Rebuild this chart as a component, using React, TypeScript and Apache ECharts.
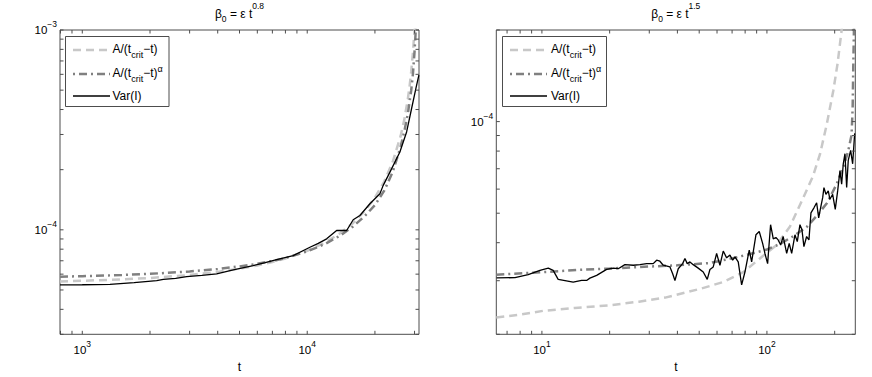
import React, { useEffect, useRef } from 'react';
import * as echarts from 'echarts';

// ---------- data ----------
// Left panel: beta0 = eps t^0.8
const leftFitLin: [number, number][] = [
  [796, 5.52e-5], [1000, 5.56e-5], [1500, 5.65e-5], [2000, 5.74e-5], [3000, 5.94e-5],
  [4000, 6.16e-5], [5000, 6.39e-5], [6000, 6.63e-5], [7000, 6.9e-5], [8000, 7.19e-5],
  [10000, 7.85e-5], [12000, 8.64e-5], [14000, 9.61e-5], [16000, 1.082e-4], [18000, 1.239e-4],
  [20000, 1.449e-4], [22000, 1.744e-4], [24000, 2.19e-4], [26000, 2.94e-4], [27000, 3.55e-4],
  [28000, 4.5e-4], [28500, 5.2e-4], [29000, 6.2e-4], [29500, 7.7e-4], [30000, 1.0e-3], [30300, 1.2e-3],
];
const leftFitPow: [number, number][] = [
  [796, 5.83e-5], [1000, 5.86e-5], [1500, 5.94e-5], [2000, 6.02e-5], [3000, 6.19e-5],
  [4000, 6.37e-5], [5000, 6.56e-5], [6000, 6.76e-5], [7000, 6.98e-5], [8000, 7.22e-5],
  [10000, 7.8e-5], [12000, 8.5e-5], [14000, 9.35e-5], [16000, 1.04e-4], [18000, 1.17e-4],
  [20000, 1.33e-4], [22000, 1.57e-4], [24000, 1.95e-4], [26000, 2.6e-4], [27000, 3.1e-4],
  [28000, 3.8e-4], [29000, 5.0e-4], [29500, 6.0e-4], [30000, 7.8e-4], [30300, 9.5e-4], [30500, 1.1e-3],
];
const leftVar: [number, number][] = [
  [796, 5.3e-5], [1000, 5.31e-5], [1327, 5.33e-5], [1700, 5.44e-5], [2142, 5.565e-5],
  [2291, 5.65e-5], [2600, 5.72e-5], [2911, 5.83e-5], [3400, 5.92e-5], [3957, 6.015e-5],
  [4690, 6.3e-5], [5754, 6.62e-5], [6500, 6.85e-5], [7311, 7.1e-5], [8667, 7.43e-5],
  [10280, 8.18e-5], [11200, 8.55e-5], [12200, 9.01e-5], [13510, 9.92e-5], [14970, 9.92e-5],
  [16010, 1.123e-4], [17150, 1.18e-4], [19000, 1.351e-4], [21040, 1.516e-4], [21770, 1.669e-4],
  [23320, 1.945e-4], [25820, 2.451e-4], [27660, 3.088e-4], [29110, 4.047e-4], [30420, 5.1e-4],
  [31360, 5.95e-4],
];

// Right panel: beta0 = eps t^1.5
const rightFitLin: [number, number][] = [
  [6.27, 2.27e-5], [8, 2.32e-5], [10.17, 2.39e-5], [14, 2.44e-5], [19.83, 2.49e-5],
  [27, 2.56e-5], [35.3, 2.64e-5], [50.4, 2.82e-5], [64, 2.97e-5], [78.5, 3.2e-5],
  [93, 3.55e-5], [110.4, 3.93e-5], [126.6, 4.52e-5], [145, 5.62e-5], [160, 6.6e-5],
  [172, 7.8e-5], [184.2, 9.75e-5], [197.1, 1.26e-4], [206, 1.55e-4], [214.8, 2.0e-4], [220, 2.4e-4],
];
const rightFitPow: [number, number][] = [
  [6.27, 3.14e-5], [10, 3.2e-5], [15, 3.26e-5], [20, 3.29e-5], [30, 3.34e-5],
  [40, 3.37e-5], [55.8, 3.43e-5], [72, 3.57e-5], [85, 3.68e-5], [100, 3.8e-5],
  [115, 3.97e-5], [130, 4.19e-5], [150, 4.5e-5], [166, 4.89e-5], [185, 5.4e-5],
  [204, 6.23e-5], [220, 7.18e-5], [230, 8.04e-5], [237.7, 9.03e-5], [240.4, 1.108e-4],
  [241.9, 1.507e-4], [243.6, 2.0e-4], [244.5, 2.4e-4],
];
const rightVar: [number, number][] = [
  [6.29, 3.066e-5], [7.59, 3.07e-5], [8.69, 3.14e-5], [9.8, 3.245e-5], [10.67, 3.3e-5],
  [11.22, 3.245e-5], [11.81, 3.03e-5], [13.77, 2.967e-5], [15.01, 3.006e-5], [15.8, 3.006e-5],
  [16.34, 3.059e-5], [17.51, 3.124e-5], [19.39, 3.27e-5], [20.75, 3.3e-5], [21.83, 3.285e-5],
  [23.38, 3.388e-5], [25.46, 3.373e-5], [27.27, 3.388e-5], [29.2, 3.414e-5], [31.24, 3.414e-5],
  [32.35, 3.504e-5], [33.44, 3.477e-5], [34.6, 3.373e-5], [37.07, 3.33e-5], [38.11, 3.162e-5],
  [39.01, 3.006e-5], [40.35, 3.285e-5], [42.2, 3.414e-5], [43.21, 3.548e-5], [44.24, 3.414e-5],
  [45.48, 3.459e-5], [47.03, 3.388e-5], [49.5, 3.3e-5], [52.11, 3.204e-5], [54.29, 3.03e-5],
  [55.81, 3.266e-5], [57.72, 3.33e-5], [59.76, 3.687e-5], [61.82, 3.373e-5], [63.95, 3.755e-5],
  [66.21, 3.567e-5], [68.49, 3.642e-5], [70.41, 3.504e-5], [72.08, 3.594e-5], [74.55, 3.459e-5],
  [77.19, 2.906e-5], [79.85, 3.204e-5], [83.43, 3.784e-5], [85.51, 3.459e-5], [89.36, 4.246e-5],
  [92.43, 4.355e-5], [95.69, 3.981e-5], [97.97, 3.687e-5], [100.7, 3.414e-5], [103.8, 4.584e-5],
  [106.7, 4.117e-5], [109.6, 4.159e-5], [112.2, 4.085e-5], [115.1, 3.931e-5], [118.1, 4.191e-5],
  [122.4, 3.687e-5], [125.6, 3.981e-5], [128.8, 3.687e-5], [133.2, 4.246e-5], [136.4, 4.032e-5],
  [140.2, 4.584e-5], [143.1, 4.412e-5], [146.0, 3.882e-5], [150.1, 4.191e-5], [153.7, 4.085e-5],
  [156.9, 5.012e-5], [161.8, 5.208e-5], [166.3, 5.412e-5], [169.8, 4.823e-5], [173.8, 5.277e-5],
  [176.9, 5.623e-5], [179.2, 6.07e-5], [182.9, 5.77e-5], [187.3, 5.92e-5], [190.5, 5.555e-5],
  [195.9, 5.77e-5], [201.2, 5.145e-5], [206.2, 5.92e-5], [211.1, 6.902e-5], [214.8, 6.23e-5],
  [218.4, 7.266e-5], [222.2, 7.846e-5], [226.1, 6.07e-5], [229.8, 7.453e-5], [235.5, 8.047e-5],
  [240.4, 7.266e-5], [245.4, 9.148e-5],
];

// axis ranges
const leftX = [796, 31400];
const leftY = [3e-5, 1e-3];
const rightX = [6.27, 247];
const rightY = [2e-5, 2e-4];

const titles = ['{b|β}{s|0}{b| = ε t}{p|0.8}', '{b|β}{s|0}{b| = ε t}{p|1.5}'];
const legendTexts = ['{n|A/(t}{s|crit}{n|−t)}', '{n|A/(t}{s|crit}{n|−t)}{p|α}', '{n|Var(I)}'];

// ---------- styles ----------
const FONT = '"Liberation Sans", Arial, Helvetica, sans-serif';
const AXIS_COLOR = '#4d4d4d';
const LIGHT = '#c8c8c8';
const DARK = '#808080';

const GRIDS = [
  { left: 60, top: 30, width: 359, height: 304.3 },
  { left: 496.3, top: 30, width: 359, height: 304.3 },
];

function powLabel(v: number) {
  const e = Math.log10(v);
  const r = Math.round(e);
  if (Math.abs(e - r) > 1e-6) return '';
  return `{b|10}{p|${r < 0 ? '−' + -r : r}}`;
}

const tickRich = {
  b: { fontSize: 11.5, fontFamily: FONT, color: '#000' },
  p: { fontSize: 8.5, fontFamily: FONT, color: '#000', padding: [0, 0, 12, 0] },
};

function logTicks(min: number, max: number) {
  const out: number[] = [];
  for (let k = Math.floor(Math.log10(min)); k <= Math.ceil(Math.log10(max)); k++) {
    for (let m = 1; m <= 9; m++) {
      const v = m * Math.pow(10, k);
      if (v >= min * (1 - 1e-9) && v <= max * (1 + 1e-9)) out.push(v);
    }
  }
  return out;
}

function tickSeries(idx: number, xr: number[], yr: number[]) {
  const xs = logTicks(xr[0], xr[1]);
  const ys = logTicks(yr[0], yr[1]);
  const L = 3.5;
  return {
    type: 'custom',
    xAxisIndex: idx,
    yAxisIndex: idx,
    silent: true,
    clip: false,
    z: 10,
    data: [[xr[0], yr[0]]],
    renderItem: (_params: any, api: any) => {
      const bl = api.coord([xr[0], yr[0]]);
      const tr = api.coord([xr[1], yr[1]]);
      const children: any[] = [];
      const ln = (x1: number, y1: number, x2: number, y2: number) => ({
        type: 'line',
        shape: { x1, y1, x2, y2 },
        style: { stroke: AXIS_COLOR, lineWidth: 1 },
      });
      xs.forEach((x) => {
        const p = api.coord([x, yr[0]]);
        children.push(ln(p[0], bl[1], p[0], bl[1] - L));
        children.push(ln(p[0], tr[1], p[0], tr[1] + L));
      });
      ys.forEach((y) => {
        const p = api.coord([xr[0], y]);
        children.push(ln(bl[0], p[1], bl[0] + L, p[1]));
        children.push(ln(tr[0], p[1], tr[0] - L, p[1]));
      });
      return { type: 'group', children };
    },
  };
}

function lineSeries(idx: number, data: [number, number][], color: string, width: number, type: any, z: number) {
  return {
    type: 'line',
    xAxisIndex: idx,
    yAxisIndex: idx,
    data,
    showSymbol: false,
    symbol: 'none',
    silent: true,
    z,
    lineStyle: { color, width, type, cap: 'butt' },
  };
}

function xAxis(idx: number, r: number[]) {
  return {
    type: 'log',
    logBase: 10,
    gridIndex: idx,
    min: r[0],
    max: r[1],
    axisLine: { show: false },
    axisTick: { show: false },
    splitLine: { show: false },
    axisLabel: { formatter: powLabel, rich: tickRich, margin: 5 },
    name: 't',
    nameLocation: 'middle',
    nameGap: 23,
    nameTextStyle: { fontSize: 12, fontFamily: FONT, color: '#000' },
  };
}

function yAxis(idx: number, r: number[]) {
  return {
    type: 'log',
    logBase: 10,
    gridIndex: idx,
    min: r[0],
    max: r[1],
    axisLine: { show: false },
    axisTick: { show: false },
    splitLine: { show: false },
    axisLabel: { formatter: powLabel, rich: tickRich, margin: 3 },
  };
}

const titleRich = {
  b: { fontSize: 12, fontFamily: FONT, fill: '#000' },
  s: { fontSize: 8.5, fontFamily: FONT, fill: '#000', padding: [10, 0, 0, 0] },
  p: { fontSize: 8.5, fontFamily: FONT, fill: '#000', padding: [0, 0, 16, 0] },
};
const legRich = {
  n: { fontSize: 12, fontFamily: FONT, fill: '#000' },
  s: { fontSize: 9, fontFamily: FONT, fill: '#000', padding: [12, 0, 0, 0] },
  p: { fontSize: 9, fontFamily: FONT, fill: '#000', padding: [0, 0, 9, 0] },
};

function legendGraphic(boxX: number, boxW: number, lineX1: number, lineX2: number, textX: number) {
  const rows = [50, 74, 96];
  const textRows = [49, 73, 96];
  const styles = [
    { stroke: LIGHT, lineWidth: 2.5, lineDash: [8, 5] },
    { stroke: DARK, lineWidth: 2.5, lineDash: [2, 4, 8, 4] },
    { stroke: '#000', lineWidth: 1.3 },
  ];
  const children: any[] = [
    {
      type: 'rect',
      shape: { x: boxX, y: 36.5, width: boxW, height: 70 },
      style: { fill: '#fff', stroke: AXIS_COLOR, lineWidth: 1 },
    },
  ];
  rows.forEach((y, i) => {
    children.push({
      type: 'line',
      shape: { x1: lineX1, y1: y, x2: lineX2, y2: y },
      style: styles[i],
    });
    children.push({
      type: 'text',
      x: textX,
      y: textRows[i],
      style: {
        text: legendTexts[i],
        rich: legRich,
        fill: '#000',
        fontFamily: FONT,
        fontSize: 12,
        align: 'left',
        verticalAlign: 'middle',
      },
    });
  });
  return { type: 'group', z: 100, children };
}

export default function App() {
  const ref = useRef<HTMLDivElement>(null);
  useEffect(() => {
    if (!ref.current) return;
    const chart = echarts.init(ref.current, undefined, { renderer: 'svg' });
    const option: any = {
      animation: false,
      backgroundColor: '#fff',
      textStyle: { fontFamily: FONT },
      grid: GRIDS.map((g) => ({
        ...g,
        show: true,
        borderColor: AXIS_COLOR,
        borderWidth: 1,
        backgroundColor: 'transparent',
        containLabel: false,
        outerBoundsMode: 'none',
      })),
      xAxis: [xAxis(0, leftX), xAxis(1, rightX)],
      yAxis: [yAxis(0, leftY), yAxis(1, rightY)],
      series: [
        lineSeries(0, leftFitLin, LIGHT, 2.5, [8, 5], 2),
        lineSeries(0, leftFitPow, DARK, 2.5, [8, 4, 2, 4], 3),
        lineSeries(0, leftVar, '#000', 1.3, 'solid', 4),
        lineSeries(1, rightFitLin, LIGHT, 2.5, [8, 5], 2),
        lineSeries(1, rightFitPow, DARK, 2.5, [8, 4, 2, 4], 3),
        lineSeries(1, rightVar, '#000', 1.3, 'solid', 4),
        tickSeries(0, leftX, leftY),
        tickSeries(1, rightX, rightY),
      ],
      graphic: [
        {
          type: 'text',
          x: GRIDS[0].left + GRIDS[0].width / 2,
          y: 13.5,
          z: 100,
          style: { text: titles[0], rich: titleRich, fill: '#000', fontFamily: FONT, fontSize: 12, align: 'center', verticalAlign: 'middle' },
        },
        {
          type: 'text',
          x: GRIDS[1].left + GRIDS[1].width / 2,
          y: 13.5,
          z: 100,
          style: { text: titles[1], rich: titleRich, fill: '#000', fontFamily: FONT, fontSize: 12, align: 'center', verticalAlign: 'middle' },
        },
        legendGraphic(65.5, 103.5, 73, 110, 112.5),
        legendGraphic(502.5, 104, 510, 547, 551),
      ],
    };
    chart.setOption(option);
    return () => chart.dispose();
  }, []);
  return <div ref={ref} style={{ position: 'fixed', left: 0, top: 0, width: 872, height: 377 }} />;
}
